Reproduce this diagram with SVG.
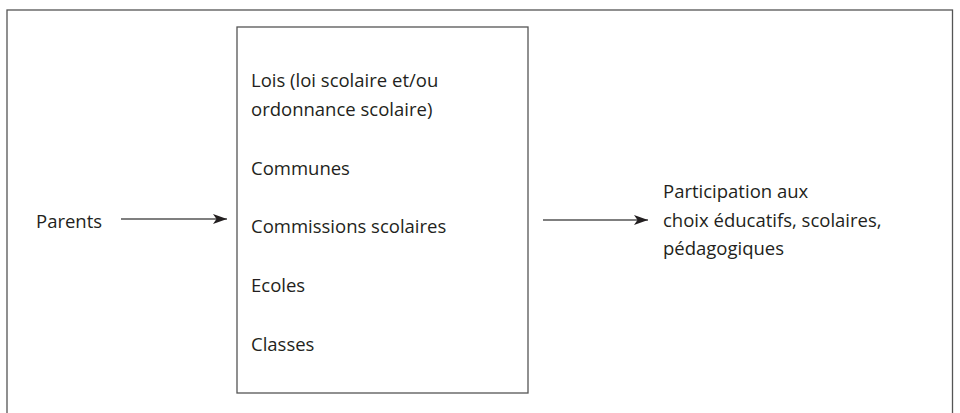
<svg xmlns="http://www.w3.org/2000/svg" width="960" height="413" viewBox="0 0 960 413">
<style>
text{font-family:"Open Sans","Noto Sans",sans-serif;font-size:18.5px;fill:#231f20}
.frame{fill:none;stroke:#555;stroke-width:1.3}
.conn{stroke:#555;stroke-width:1.3;fill:none}
</style>
<defs>
<marker id="ah" viewBox="0 0 14 10" refX="14" refY="5" markerWidth="14" markerHeight="10" markerUnits="userSpaceOnUse" orient="auto">
<path d="M0,0 L14,5 L0,10 L3.5,5 Z" fill="#231f20"/>
</marker>
</defs>
<rect class="frame" x="7" y="10" width="945.5" height="420"/>
<g id="parents"><text x="36" y="228">Parents</text></g>
<g id="niveaux">
<rect class="frame" x="237" y="27" width="291" height="366"/>
<text x="251" y="87">Lois (loi scolaire et/ou</text>
<text x="251" y="116">ordonnance scolaire)</text>
<text x="251" y="175">Communes</text>
<text x="251" y="233">Commissions scolaires</text>
<text x="251" y="292">Ecoles</text>
<text x="251" y="351">Classes</text>
</g>
<g id="participation">
<text x="663" y="198">Participation aux</text>
<text x="663" y="226.5">choix éducatifs, scolaires,</text>
<text x="663" y="255">pédagogiques</text>
</g>
<g id="connectors">
<line class="conn" x1="121" y1="219" x2="227" y2="219" marker-end="url(#ah)"/>
<line class="conn" x1="543" y1="220" x2="648" y2="220" marker-end="url(#ah)"/>
</g>
</svg>
